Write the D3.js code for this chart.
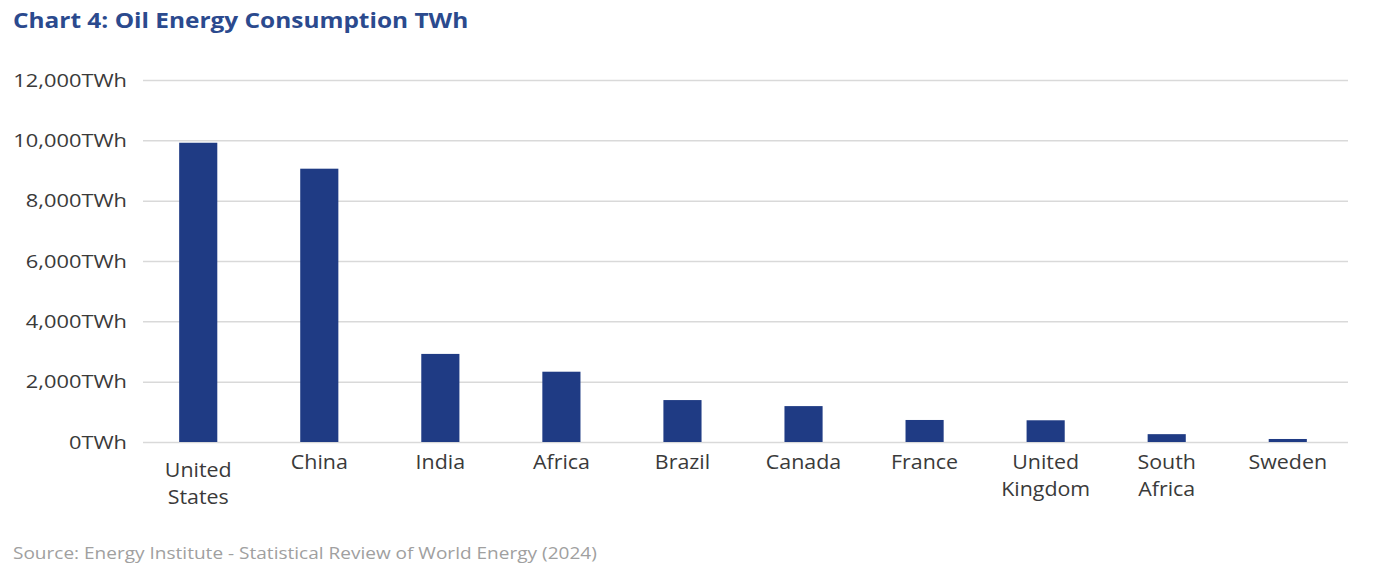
<!DOCTYPE html>
<html>
<head>
<meta charset="utf-8">
<script src="https://cdn.jsdelivr.net/npm/d3@7"></script>
<style>
  body { margin: 0; background: #fff; font-family: "Open Sans", sans-serif; }
</style>
</head>
<body>
<div id="vis"></div>
<script>
var countries = ["United States", "China", "India", "Africa", "Brazil", "Canada", "France", "United Kingdom", "South Africa", "Sweden"];
var consumption = [9920, 9060, 2920, 2330, 1390, 1190, 730, 720, 260, 100];
var yTicks = [0, 2000, 4000, 6000, 8000, 10000, 12000];

var W = 1381, H = 577;
var m = { top: 80, right: 33, bottom: 135, left: 138 };
var width = W - m.left - m.right;
var height = H - m.top - m.bottom;

var x = d3.scaleBand()
    .domain(countries)
    .range([0, width])
    .paddingInner(0.685)
    .paddingOuter(0.34);

var y = d3.scaleLinear()
    .domain([0, 12000])
    .range([height, 0]);

var svg = d3.select('#vis').append('svg')
    .attr("width", W)
    .attr("height", H);

// the source picture has its text a bit stretched sideways
svg.append("text")
    .attr("transform", "translate(13,28) scale(1.11,1)")
    .attr("fill", "#2b4a8e")
    .style("font-weight", "bold")
    .style("font-size", "22px")
    .text("Chart 4: Oil Energy Consumption TWh");

var vis = svg.append('g')
    .attr("transform", "translate(" + m.left + "," + m.top + ")");

// gridlines
var yAxis = d3.axisLeft(y)
    .tickValues(yTicks)
    .tickSize(-width + 5)
    .tickFormat(function(d) { return d3.format(",")(d) + "TWh"; });

var gy = vis.append("g")
    .attr("transform", "translate(5,0)")
    .call(yAxis);
gy.select(".domain").remove();
gy.selectAll(".tick line").attr("stroke", "#d9d9d9").attr("stroke-width", 1.5);
gy.selectAll(".tick text")
    .attr("x", 0)
    .attr("transform", "translate(-16,0) scale(1.15,1)")
    .attr("fill", "#3a3a3a")
    .style("font-size", "19px")
    .style("font-family", "'Open Sans', sans-serif");

vis.selectAll(".bar")
    .data(consumption)
    .enter().append("rect")
    .attr("class", "bar")
    .attr("x", function(d, i) { return x(countries[i]); })
    .attr("width", x.bandwidth())
    .attr("y", function(d) { return y(d); })
    .attr("height", function(d) { return height - y(d); })
    .attr("fill", "#1f3b84");

// category labels, wrapped over two lines (first one sits a little lower in the original)
var labels = vis.selectAll(".xlab")
    .data(countries)
    .enter().append("text")
    .attr("class", "xlab")
    .attr("text-anchor", "middle")
    .attr("fill", "#3a3a3a")
    .style("font-size", "20px")
    .attr("transform", function(d, i) {
        return "translate(" + (x(d) + x.bandwidth() / 2) + "," + (height + (i == 0 ? 35 : 27)) + ") scale(1.07,1)";
    });

labels.each(function(d) {
    var words = d.split(" ");
    var t = d3.select(this);
    words.forEach(function(w, i) {
        t.append("tspan").attr("x", 0).attr("dy", i == 0 ? 0 : 27).text(w);
    });
});

svg.append("text")
    .attr("transform", "translate(13,559) scale(1.12,1)")
    .attr("fill", "#a0a0a0")
    .style("font-size", "17px")
    .text("Source: Energy Institute - Statistical Review of World Energy (2024)");
</script>
</body>
</html>
